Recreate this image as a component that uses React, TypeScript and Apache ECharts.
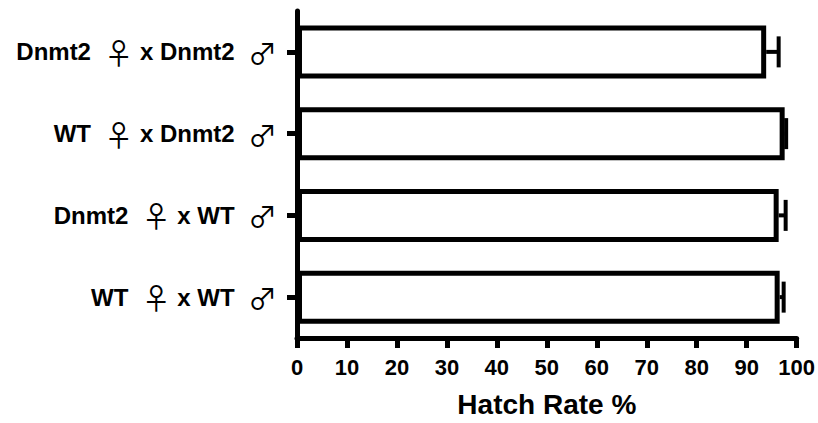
import React, { useEffect, useRef } from "react";
import * as echarts from "echarts";

const femaleParents = ["Dnmt2", "WT", "Dnmt2", "WT"];
const maleParents = ["Dnmt2", "Dnmt2", "WT", "WT"];
const categories = femaleParents.map((f, i) => `${f} ♀ x ${maleParents[i]} ♂`);
const hatchMeans = [93.9, 97.6, 96.4, 96.6];
const hatchErrors = [2.5, 0.3, 1.4, 0.8];
const xTicks = [0, 10, 20, 30, 40, 50, 60, 70, 80, 90, 100];

export default function App() {
  const ref = useRef<HTMLDivElement>(null);
  useEffect(() => {
    if (!ref.current) return;
    const chart = echarts.init(ref.current, undefined, { renderer: "svg" });
    const font = "'Liberation Sans', Arial, sans-serif";
    chart.setOption({
      animation: false,
      backgroundColor: "#fff",
      grid: { left: 297, right: 21, top: 11, bottom: 78, containLabel: false },
      xAxis: {
        type: "value",
        min: xTicks[0],
        max: xTicks[xTicks.length - 1],
        interval: 10,
        name: "Hatch Rate %",
        nameLocation: "middle",
        nameGap: 52,
        nameTextStyle: { fontFamily: font, fontWeight: "bold", fontSize: 28, color: "#000" },
        axisLine: { show: true, lineStyle: { color: "#000", width: 5 } },
        axisTick: { show: true, length: 10, lineStyle: { color: "#000", width: 5 } },
        axisLabel: { margin: 18, fontFamily: font, fontWeight: "bold", fontSize: 22, color: "#000" },
        splitLine: { show: false },
      },
      yAxis: {
        type: "category",
        inverse: true,
        data: categories,
        axisLine: { show: true, lineStyle: { color: "#000", width: 5 } },
        axisTick: { show: true, alignWithLabel: true, length: 10, lineStyle: { color: "#000", width: 5 } },
        axisLabel: {
          margin: 20,
          formatter: (v: string) => {
            const i = categories.indexOf(v);
            return `{b|${femaleParents[i]}  }{s|♀}{b| x ${maleParents[i]}  }{s|♂}`;
          },
          rich: {
            b: { fontFamily: font, fontWeight: "bold", fontSize: 24, color: "#000" },
            s: { fontFamily: "'Noto Sans CJK JP', 'DejaVu Sans', sans-serif", fontWeight: "normal", fontSize: 29, color: "#000" },
          },
        },
      },
      series: [
        {
          type: "bar",
          data: hatchMeans,
          barWidth: 53,
          itemStyle: { color: "#fff", borderColor: "#000", borderWidth: 5 },
          z: 2,
        },
        {
          type: "custom",
          z: 3,
          data: hatchMeans.map((m, i) => [m, i, hatchErrors[i]]),
          renderItem: (params: any, api: any) => {
            const m = api.value(0);
            const c = api.value(1);
            const e = api.value(2);
            const p0 = api.coord([m, c]);
            const p1 = api.coord([m + e, c]);
            const half = 15.5;
            return {
              type: "group",
              children: [
                {
                  type: "line",
                  shape: { x1: p0[0], y1: p0[1], x2: p1[0], y2: p1[1] },
                  style: { stroke: "#000", lineWidth: 4 },
                },
                {
                  type: "line",
                  shape: { x1: p1[0], y1: p1[1] - half, x2: p1[0], y2: p1[1] + half },
                  style: { stroke: "#000", lineWidth: 4 },
                },
              ],
            };
          },
        },
      ],
    });
    return () => chart.dispose();
  }, []);
  return <div ref={ref} style={{ width: 818, height: 423, position: "absolute", left: 0, top: 0 }} />;
}
